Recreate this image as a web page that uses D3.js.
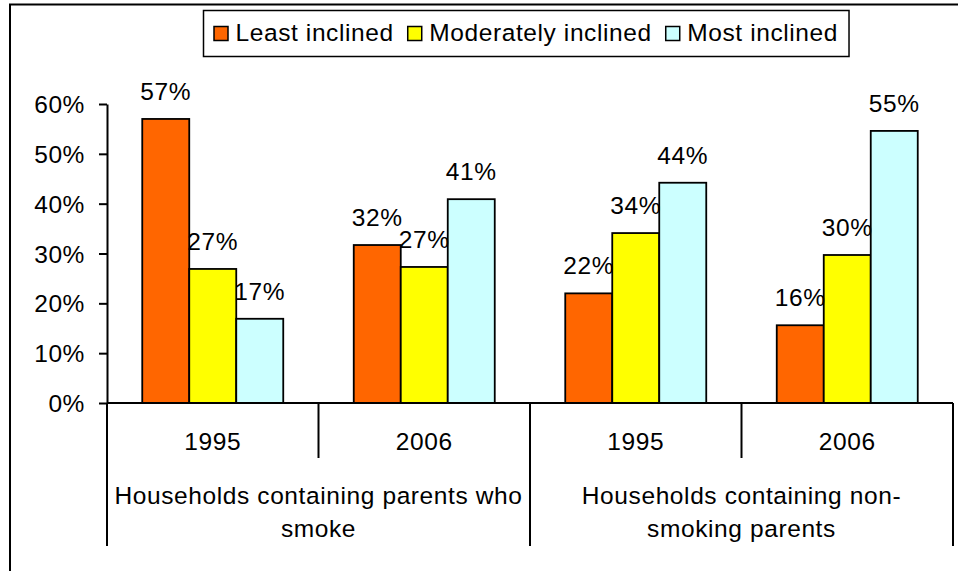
<!DOCTYPE html>
<html>
<head>
<meta charset="utf-8">
<script src="https://cdn.jsdelivr.net/npm/d3@7"></script>
<style>
  html, body { margin: 0; padding: 0; background: #fff; }
  svg text { font-family: "Liberation Sans", Arial, sans-serif; font-size: 24.5px; letter-spacing: 0.6px; fill: #000; }
</style>
</head>
<body>
<svg id="chart" width="958" height="571"></svg>
<script>
const seriesNames = ["Least inclined", "Moderately inclined", "Most inclined"];
const seriesColors = ["#FF6600", "#FFFF00", "#CCFFFF"];
const years = ["1995", "2006", "1995", "2006"];
const groups = [
  ["Households containing parents who", "smoke"],
  ["Households containing non-", "smoking parents"]
];
const leastInclined = [0.57, 0.317, 0.22, 0.156];
const moderatelyInclined = [0.269, 0.273, 0.341, 0.297];
const mostInclined = [0.169, 0.409, 0.442, 0.546];
const yTicks = [0, 0.1, 0.2, 0.3, 0.4, 0.5, 0.6];

(function () {
const seriesValues = [leastInclined, moderatelyInclined, mostInclined];
const svg = d3.select("#chart");

// outer frame
svg.append("rect").attr("x", 10).attr("y", 4.5).attr("width", 1000).attr("height", 1000)
  .attr("fill", "none").attr("stroke", "#000").attr("stroke-width", 2);

const pLeft = 107, pRight = 953, pTop = 104, pBottom = 403;
const cats = d3.range(years.length);
const x = d3.scaleBand().domain(cats).range([pLeft, pRight]).padding(0);
const xs = d3.scaleBand().domain(d3.range(seriesNames.length)).range([0, x.bandwidth()])
  .paddingInner(0).paddingOuter(0.75);
const y = d3.scaleLinear().domain([0, 0.6]).range([pBottom, pTop]);

// bars
const rows = [];
cats.forEach(c => seriesValues.forEach((vals, s) => rows.push({c, s, v: vals[c]})));
svg.append("g").selectAll("rect").data(rows).join("rect")
  .attr("x", d => x(d.c) + xs(d.s))
  .attr("y", d => y(d.v))
  .attr("width", xs.bandwidth())
  .attr("height", d => y(0) - y(d.v))
  .attr("fill", d => seriesColors[d.s])
  .attr("stroke", "#000").attr("stroke-width", 1.8);

// data labels
svg.append("g").selectAll("text").data(rows).join("text")
  .attr("x", d => x(d.c) + xs(d.s) + xs.bandwidth() / 2)
  .attr("y", d => y(d.v) - 19)
  .attr("text-anchor", "middle")
  .text(d => d3.format(".0%")(d.v));

// y axis
const yAxis = svg.append("g").attr("transform", `translate(${pLeft},0)`)
  .call(d3.axisLeft(y).tickValues(yTicks).tickFormat(d3.format(".0%")).tickSize(8).tickSizeOuter(0).tickPadding(14));
yAxis.attr("font-size", null).attr("font-family", null);
yAxis.select(".domain").attr("stroke", "#000").attr("stroke-width", 2);
yAxis.selectAll(".tick line").attr("stroke", "#000").attr("stroke-width", 2);
yAxis.selectAll(".tick text").attr("fill", "#000").attr("dy", "0.35em");

// x axis line
svg.append("line").attr("x1", pLeft).attr("x2", pRight).attr("y1", pBottom).attr("y2", pBottom)
  .attr("stroke", "#000").attr("stroke-width", 2);

// category ticks
const boundaries = d3.range(years.length + 1);
const bx = i => i < years.length ? x(i) : x(years.length - 1) + x.bandwidth();
svg.append("g").selectAll("line").data(boundaries).join("line")
  .attr("x1", bx).attr("x2", bx)
  .attr("y1", pBottom)
  .attr("y2", i => i % 2 === 0 ? 546 : 458)
  .attr("stroke", "#000").attr("stroke-width", 2);

// year labels
svg.append("g").selectAll("text").data(years).join("text")
  .attr("x", (d, i) => x(i) + x.bandwidth() / 2)
  .attr("y", 450)
  .attr("text-anchor", "middle")
  .text(d => d);

// group labels
groups.forEach((lines, g) => {
  const gx = x(g * 2) + x.bandwidth();
  lines.forEach((ln, k) => {
    svg.append("text").attr("x", gx).attr("y", 504 + k * 33)
      .attr("text-anchor", "middle").text(ln);
  });
});

// legend
const lg = svg.append("g");
const box = lg.append("rect").attr("y", 10.5).attr("height", 46)
  .attr("fill", "#fff").attr("stroke", "#000").attr("stroke-width", 1.5);
let lx = 214;
seriesNames.forEach((name, i) => {
  lg.append("rect").attr("x", lx).attr("y", 26.5).attr("width", 14).attr("height", 14)
    .attr("fill", seriesColors[i]).attr("stroke", "#000").attr("stroke-width", 1.5);
  const t = lg.append("text").attr("x", lx + 21.5).attr("y", 41).text(name);
  lx = lx + 21.5 + t.node().getComputedTextLength() + 14;
});
box.attr("x", 203.5).attr("width", lx - 203.5 - 3);
})();
</script>
</body>
</html>
